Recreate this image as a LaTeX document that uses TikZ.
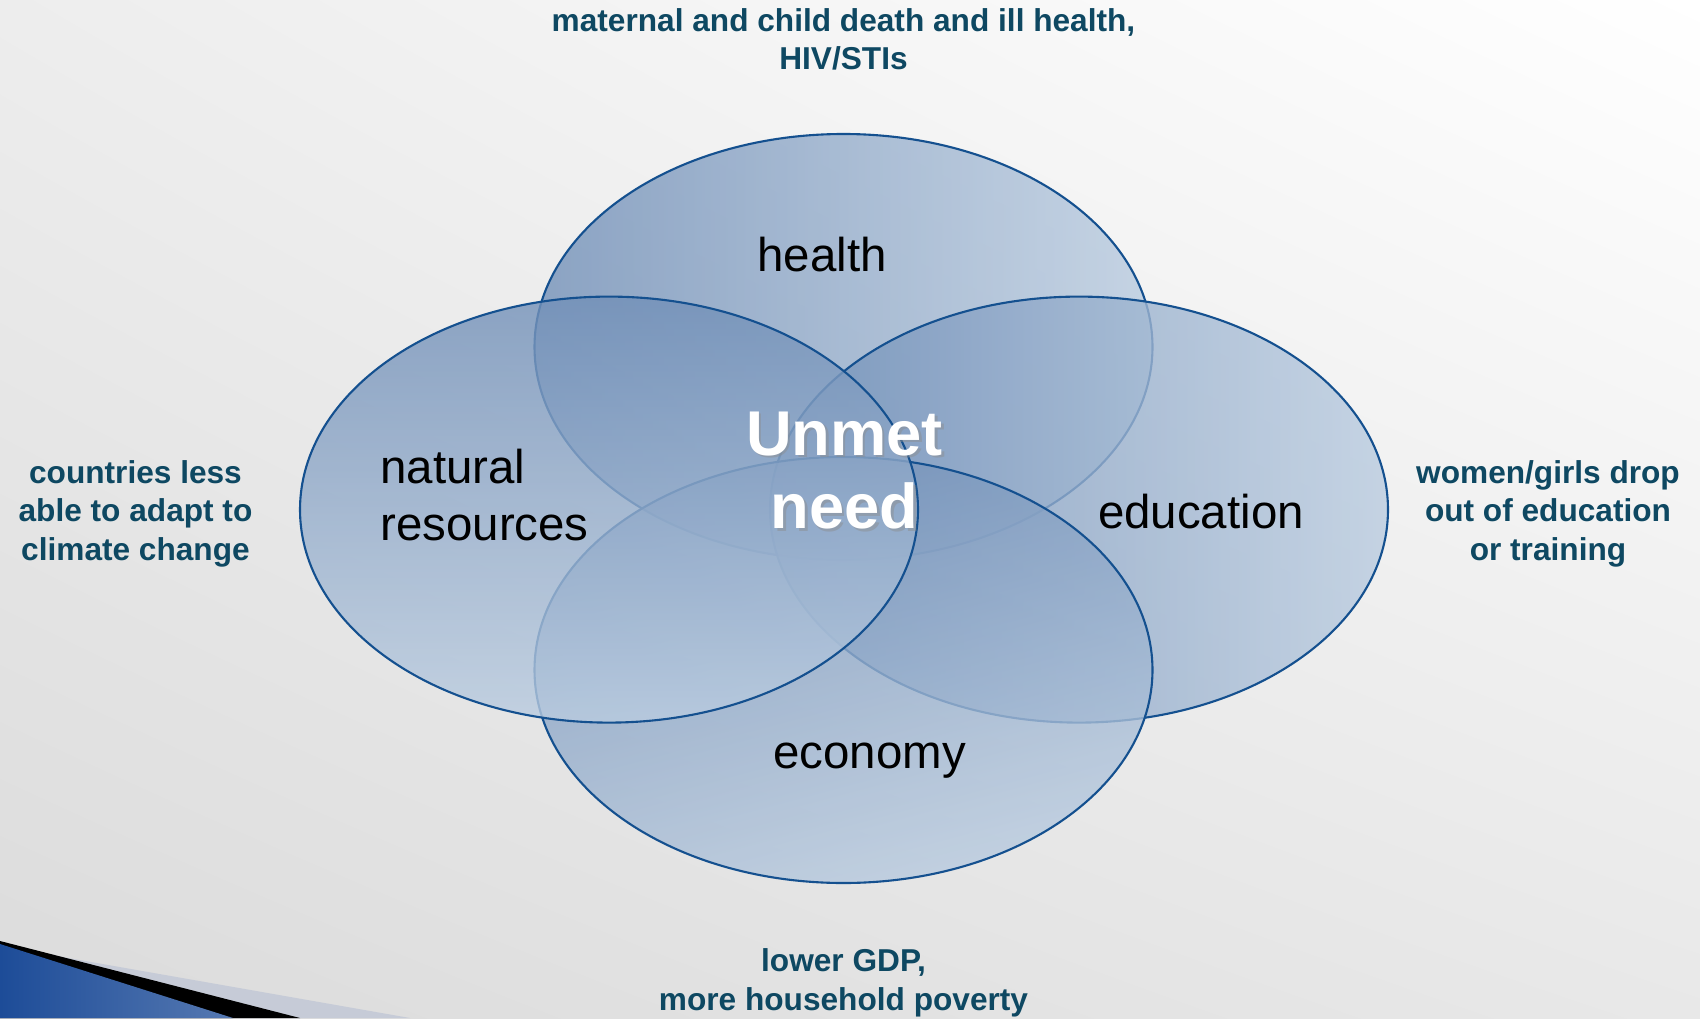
\documentclass[tikz,border=0pt]{standalone}
\usepackage{fontspec}
\setmainfont{Liberation Sans}
\usetikzlibrary{shapes.geometric, shadings, positioning}

\definecolor{ringedge}{HTML}{14508F}
\definecolor{ringdark}{HTML}{7290B8}
\definecolor{ringlight}{HTML}{BACCE0}
\definecolor{tealtext}{RGB}{14,72,98}
\definecolor{cornerblue}{HTML}{1D4C98}
\definecolor{cornerlight}{HTML}{C6CBD7}

\begin{document}
\begin{tikzpicture}
    % --- Style Definitions ---
    \tikzset{
        venn ring/.style={
            ellipse,
            minimum width=6.18cm,
            minimum height=4.26cm,
            inner sep=0pt,
            outer sep=0pt,
            draw=ringedge,
            line width=0.6pt,
            shade,
            top color=ringdark,
            bottom color=ringlight,
            shading angle=#1,
            fill opacity=0.8
        },
        ring text/.style={font=\fontsize{13.5}{16.3}\selectfont, text=black},
        effect text/.style={
            font=\fontsize{9}{11}\selectfont\bfseries,
            text=tealtext,
            align=center
        },
        core text/.style={
            font=\fontsize{18}{21}\selectfont\bfseries,
            align=center
        }
    }

    \useasboundingbox (0,0) rectangle (17,10.18);

    % --- Backdrop ---
    \shade[upper right=white, upper left=black!7, lower left=black!14,
           lower right=black!9] (0,0) rectangle (17,10.18);

    % corner swoosh
    \fill[cornerlight] (0,0.72) -- (4.10,0) -- (0,0) -- cycle;
    \fill[black] (0,0.77) -- (3.00,0) -- (0,0) -- cycle;
    \shade[left color=cornerblue, right color=cornerblue!75!white]
        (0,0.74) -- (2.33,0) -- (0,0) -- cycle;

    % ==========================================
    % THE FOUR RINGS (later ones lie on top)
    % ==========================================
    \node[venn ring=90] (health_ring) at (8.435,6.71) {};
    \node[venn ring=90] (education_ring) at (10.79,5.084) {};
    \node[venn ring=15] (economy_ring) at (8.435,3.48) {};
    \node[venn ring=0] (nature_ring) at (6.09,5.084) {};

    % ring names
    \node[ring text] (lbl_health) at (8.22,7.632) {health};
    \node[ring text, anchor=west, align=left] (lbl_nature) at (3.68,5.23) {natural\\resources};
    \node[ring text] (lbl_education) at (12.01,5.063) {education};
    \node[ring text] (lbl_economy) at (8.695,2.57) {economy};

    % centre, with a soft shadow under the white
    \node[core text, text=black!45, opacity=0.45] (core_shadow) at (8.47,5.45) {Unmet\\need};
    \node[core text, text=white] (core_label) at (8.446,5.474) {Unmet\\need};

    % ==========================================
    % CONSEQUENCES AROUND THE OUTSIDE
    % ==========================================
    \node[effect text] (effect_health) at (8.435,9.785) {maternal and child death and ill health,\\HIV/STIs};
    \node[effect text] (effect_nature) at (1.355,5.043) {countries less\\able to adapt to\\climate change};
    \node[effect text] (effect_education) at (15.48,5.043) {women/girls drop\\out of education\\or training};
    \node[effect text] (effect_economy) at (8.435,0.35) {lower GDP,\\more household poverty};

\end{tikzpicture}
\end{document}
